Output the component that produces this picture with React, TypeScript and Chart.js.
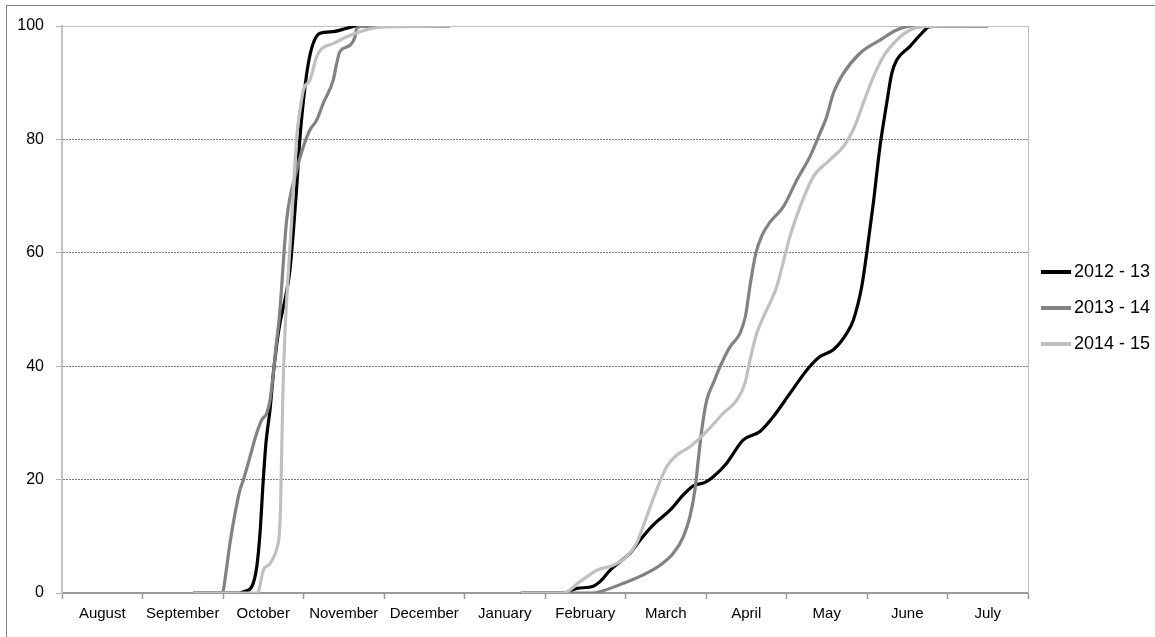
import React, { useEffect, useRef } from 'react';
import { Chart, registerables } from 'chart.js';

Chart.register(...registerables);

// Category labels (months, August through July)
const monthLabels = ['August', 'September', 'October', 'November', 'December', 'January', 'February', 'March', 'April', 'May', 'June', 'July'];
const yMin = 0;
const yMax = 100;
const yStep = 20;

const seriesNames = ['2012 - 13', '2013 - 14', '2014 - 15'];
const seriesColors = ['#000000', '#828282', '#c0c0c0'];

// x is measured in months since the start of August (0 = 1 Aug, 12 = 31 Jul)
// 2012 - 13
const s1213AutumnX = [1.63, 2.2, 2.273, 2.357, 2.419, 2.46, 2.5, 2.534, 2.584, 2.634, 2.7, 2.77, 2.832, 2.916, 2.957, 3.019, 3.06, 3.12, 3.205, 3.37, 3.537, 3.66, 4.82];
const s1213AutumnY = [0, 0, 0.3, 1.1, 4.6, 10.6, 19.9, 26.5, 32.3, 39.9, 47, 51.7, 57, 71.7, 80.5, 89.3, 93.4, 96.9, 98.7, 99, 99.6, 100, 100];
const s1213SpringX = [5.7, 6.227, 6.394, 6.6, 6.683, 6.807, 6.932, 7.056, 7.18, 7.345, 7.553, 7.718, 7.842, 7.988, 8.09, 8.257, 8.463, 8.671, 8.836, 9.043, 9.251, 9.416, 9.581, 9.748, 9.83, 9.934, 9.996, 10.078, 10.161, 10.245, 10.307, 10.369, 10.534, 10.658, 10.783, 11.503];
const s1213SpringY = [0, 0, 0.8, 1.2, 2, 4, 5.5, 7, 9.3, 12, 14.6, 17.3, 18.9, 19.5, 20.5, 22.9, 27, 28.5, 31.1, 35.2, 39.3, 41.7, 42.9, 45.8, 48.1, 54, 59.9, 68.7, 78.7, 86.4, 91.6, 94, 96.4, 98.4, 99.9, 100];

// 2013 - 14
const s1314AutumnX = [1.63, 1.98, 2.004, 2.046, 2.087, 2.149, 2.211, 2.252, 2.335, 2.419, 2.481, 2.543, 2.584, 2.625, 2.658, 2.7, 2.791, 2.916, 2.998, 3.081, 3.164, 3.246, 3.37, 3.412, 3.453, 3.578, 3.64, 3.66, 3.785, 4.82];
const s1314AutumnY = [0, 0, 0.5, 4.6, 8.8, 14, 18.2, 19.9, 24, 28.2, 30.5, 31.7, 34, 38.7, 43.4, 48.7, 65.8, 74.6, 78.7, 81.7, 83.4, 86.4, 90.5, 93.4, 95.5, 96.6, 98.1, 99.6, 100, 100];
const s1314SpringX = [5.7, 6.6, 6.724, 6.973, 7.221, 7.429, 7.594, 7.718, 7.801, 7.863, 7.904, 7.947, 8.009, 8.09, 8.174, 8.298, 8.422, 8.49, 8.55, 8.62, 8.7, 8.795, 8.96, 9.127, 9.292, 9.416, 9.499, 9.581, 9.705, 9.913, 10.161, 10.369, 10.575, 11.503];
const s1314SpringY = [0, 0, 0.4, 1.7, 3.2, 4.9, 7, 9.9, 13.5, 18.2, 23.5, 28.7, 34, 37, 39.9, 43.4, 45.8, 48.8, 54.5, 60, 63.2, 65.4, 68.1, 72.8, 77, 81.1, 84, 88.1, 91.6, 95.2, 97.5, 99.3, 100, 100];

// 2014 - 15
const s1415AutumnX = [1.63, 2.419, 2.439, 2.5, 2.584, 2.675, 2.7, 2.717, 2.742, 2.77, 2.791, 2.853, 2.916, 2.957, 2.998, 3.081, 3.164, 3.226, 3.37, 3.537, 3.7, 3.95, 4.2, 4.82];
const s1415AutumnY = [0, 0, 0.2, 4, 5.2, 8.2, 10.5, 16.4, 34, 45.9, 51.7, 65.8, 80.5, 85.2, 88.7, 90.5, 94.6, 96, 96.9, 98.1, 99, 99.8, 99.9, 100];
const s1415SpringX = [5.7, 6.227, 6.435, 6.642, 6.848, 7.015, 7.139, 7.263, 7.387, 7.512, 7.636, 7.801, 8.009, 8.215, 8.381, 8.484, 8.547, 8.63, 8.733, 8.878, 9.043, 9.168, 9.333, 9.54, 9.705, 9.83, 9.954, 10.078, 10.203, 10.369, 10.534, 10.699, 11.503];
const s1415SpringY = [0, 0, 2, 4, 4.9, 6.4, 8.8, 13.5, 18.2, 22.3, 24.3, 25.8, 28.5, 31.7, 34, 37, 41.1, 45.8, 49.3, 54, 62.9, 68.1, 73.4, 76.4, 78.7, 81.7, 86.4, 91, 94.6, 97.5, 99.3, 99.9, 100];

const gapX = 5.25;

function buildPoints(ax: number[], ay: number[], sx: number[], sy: number[]) {
  const pts: { x: number; y: number | null }[] = [];
  ax.forEach((x, i) => pts.push({ x, y: ay[i] }));
  pts.push({ x: gapX, y: null });
  sx.forEach((x, i) => pts.push({ x, y: sy[i] }));
  return pts;
}

const seriesPoints = [
  buildPoints(s1213AutumnX, s1213AutumnY, s1213SpringX, s1213SpringY),
  buildPoints(s1314AutumnX, s1314AutumnY, s1314SpringX, s1314SpringY),
  buildPoints(s1415AutumnX, s1415AutumnY, s1415SpringX, s1415SpringY),
];

const FONT = '"Liberation Sans", Arial, Helvetica, sans-serif';

const framePlugin = {
  id: 'frameEdges',
  beforeDatasetsDraw(chart: any) {
    const { ctx, chartArea } = chart;
    ctx.save();
    ctx.strokeStyle = '#c0c0c0';
    ctx.lineWidth = 1;
    ctx.beginPath();
    ctx.moveTo(chartArea.left, chartArea.top + 0.5);
    ctx.lineTo(chartArea.right, chartArea.top + 0.5);
    ctx.moveTo(chartArea.right + 0.5, chartArea.top);
    ctx.lineTo(chartArea.right + 0.5, chartArea.bottom);
    ctx.stroke();
    ctx.restore();
  },
};

const legendPlugin = {
  id: 'sideLegend',
  afterDraw(chart: any) {
    const { ctx, chartArea } = chart;
    const x0 = chartArea.right + 13;
    const cy = (chartArea.top + chartArea.bottom) / 2 - 1.5;
    const n = chart.data.datasets.length;
    ctx.save();
    ctx.font = `18px ${FONT}`;
    ctx.textBaseline = 'middle';
    ctx.textAlign = 'left';
    chart.data.datasets.forEach((ds: any, i: number) => {
      const y = cy + (i - (n - 1) / 2) * 36;
      ctx.strokeStyle = ds.borderColor;
      ctx.lineWidth = 4;
      ctx.beginPath();
      ctx.moveTo(x0, y);
      ctx.lineTo(x0 + 30, y);
      ctx.stroke();
      ctx.fillStyle = '#000';
      ctx.fillText(ds.label, x0 + 33, y);
    });
    ctx.restore();
  },
};

export default function App() {
  const canvasRef = useRef<HTMLCanvasElement | null>(null);

  useEffect(() => {
    const canvas = canvasRef.current;
    if (!canvas) return;
    const chart = new Chart(canvas, {
      type: 'line',
      data: {
        labels: monthLabels,
        datasets: seriesNames.map((name, i) => ({
          label: name,
          data: seriesPoints[i],
          xAxisID: 'xd',
          yAxisID: 'y',
          borderColor: seriesColors[i],
          backgroundColor: seriesColors[i],
          borderWidth: 3.2,
          pointRadius: 0,
          pointHoverRadius: 0,
          fill: false,
          cubicInterpolationMode: 'monotone' as const,
          spanGaps: false,
          order: seriesNames.length - i,
        })),
      },
      options: {
        responsive: false,
        animation: false,
        events: [],
        layout: { padding: { top: 26, right: 127, bottom: 0, left: 0 } },
        plugins: {
          legend: { display: false },
          tooltip: { enabled: false },
          title: { display: false },
        },
        scales: {
          x: {
            type: 'category',
            position: 'bottom',
            offset: true,
            grid: {
              offset: true,
              drawOnChartArea: false,
              drawTicks: true,
              tickLength: 6,
              tickColor: '#9a9a9a',
              color: '#9a9a9a',
              tickWidth: 1.5,
            },
            border: { display: true, color: '#9a9a9a', width: 2 },
            ticks: {
              autoSkip: false,
              maxRotation: 0,
              minRotation: 0,
              padding: 6,
              color: '#000',
              font: { family: FONT, size: 15 },
            },
            afterFit: (scale: any) => {
              scale.height = 44;
            },
          },
          xd: {
            type: 'linear',
            display: false,
            min: 0,
            max: monthLabels.length,
          },
          y: {
            type: 'linear',
            position: 'left',
            min: yMin,
            max: yMax,
            ticks: {
              stepSize: yStep,
              padding: 12,
              color: '#000',
              font: { family: FONT, size: 16 },
            },
            grid: {
              color: (c: any) => {
                const v = c.tick ? c.tick.value : null;
                if (v === yMin) return 'rgba(0,0,0,0)';
                if (v === yMax) return '#c0c0c0';
                return '#7a7a7a';
              },
              lineWidth: 1,
              tickLength: 6,
              tickColor: '#b0b0b0',
              tickBorderDash: [],
            },
            border: {
              display: true,
              color: '#c0c0c0',
              width: 2,
              dash: (c: any) => (c.tick && c.tick.value !== yMax ? [2, 1] : []),
            },
            afterFit: (scale: any) => {
              scale.width = 62;
            },
          },
        },
      },
      plugins: [framePlugin, legendPlugin],
    });
    return () => chart.destroy();
  }, []);

  return (
    <div style={{ position: 'fixed', left: 0, top: 0, width: 1155, height: 637, background: '#fff', overflow: 'hidden' }}>
      <div
        style={{
          position: 'absolute',
          left: 6,
          top: 5,
          width: 1200,
          height: 700,
          borderLeft: '1px solid #7f7f7f',
          borderTop: '1px solid #7f7f7f',
          boxSizing: 'border-box',
        }}
      />
      <canvas
        ref={canvasRef}
        width={1155}
        height={637}
        style={{ position: 'absolute', left: 0, top: 0, width: 1155, height: 637 }}
      />
    </div>
  );
}
